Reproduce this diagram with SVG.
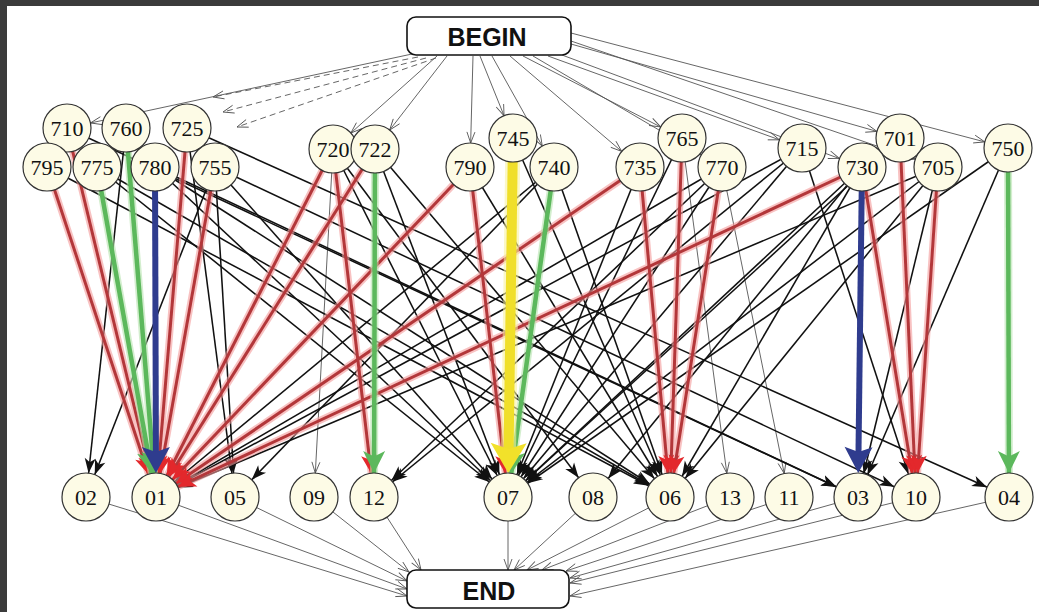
<svg xmlns="http://www.w3.org/2000/svg" width="1039" height="612" viewBox="0 0 1039 612">
<style>
  .bk{stroke:#111;stroke-width:1.55;marker-end:url(#ab)}
  .gn{stroke:#555;stroke-width:0.9;marker-end:url(#avn)}
  .ge{stroke:#555;stroke-width:0.9;marker-end:url(#ave)}
  .ds{stroke:#555;stroke-width:0.9;stroke-dasharray:6 4;marker-end:url(#ave)}
  .rd{stroke:#b3373a;stroke-width:3;marker-end:url(#ar)}
  .gr{stroke:#5cb85c;stroke-width:4.5;marker-end:url(#ag)}
  .bl{stroke:#2f3c8e;stroke-width:6;marker-end:url(#abl)}
  .yl{stroke:#f0df2a;stroke-width:10;marker-end:url(#ay)}
  .halo{fill:none}
  .node circle{fill:#fdfbe6;stroke:#333;stroke-width:1.2}
  .node text{font-family:"Liberation Serif",serif;font-size:22px;text-anchor:middle;fill:#111}
  .term rect{fill:#fff;stroke:#111;stroke-width:1.6}
  .term text{font-family:"Liberation Sans",Arial,sans-serif;font-weight:bold;font-size:25px;text-anchor:middle;fill:#111}
</style>
<defs>
  <marker id="ab" markerUnits="userSpaceOnUse" markerWidth="40" markerHeight="11" refX="39" refY="5.5" orient="auto" overflow="visible"><path d="M0,0L15,5.5L0,11L4,5.5z" fill="#111"/></marker>
  <marker id="avn" markerUnits="userSpaceOnUse" markerWidth="40" markerHeight="8" refX="35" refY="4" orient="auto" overflow="visible"><path d="M0,0L11,4L0,8" fill="none" stroke="#555" stroke-width="0.9"/></marker>
  <marker id="ave" markerUnits="userSpaceOnUse" markerWidth="12" markerHeight="8" refX="11" refY="4" orient="auto" overflow="visible"><path d="M0,0L11,4L0,8" fill="none" stroke="#555" stroke-width="0.9"/></marker>
  <marker id="ar" markerUnits="userSpaceOnUse" markerWidth="44" markerHeight="16" refX="42" refY="8" orient="auto" overflow="visible"><path d="M0,0L18,8L0,16L4.5,8z" fill="#e3282c"/></marker>
  <marker id="ag" markerUnits="userSpaceOnUse" markerWidth="48" markerHeight="22" refX="46" refY="11" orient="auto" overflow="visible"><path d="M0,0L22,11L0,22L5.5,11z" fill="#5cb85c"/></marker>
  <marker id="abl" markerUnits="userSpaceOnUse" markerWidth="28" markerHeight="28" refX="5" refY="14" orient="auto" overflow="visible"><path d="M0,0L26,14L0,28L5,14z" fill="#2f3c8e"/></marker>
  <marker id="ay" markerUnits="userSpaceOnUse" markerWidth="32" markerHeight="36" refX="6" refY="18" orient="auto" overflow="visible"><path d="M0,0L30,18L0,36L6,18z" fill="#f2e12a"/></marker>
</defs>

<rect width="1039" height="612" fill="#fff"/>
<!-- dark frame on top and left edges -->
<rect x="0" y="0" width="1039" height="6" fill="#3b3b3b"/>
<rect x="0" y="0" width="7" height="612" fill="#3b3b3b"/>

<g id="connectors">
  <!-- BEGIN to first layer -->
  <line class="gn" x1="412" y1="54" x2="67" y2="128"/>
  <line class="gn" x1="437" y1="56" x2="333" y2="149"/>
  <line class="gn" x1="447" y1="56" x2="375" y2="149"/>
  <line class="gn" x1="473" y1="56" x2="470" y2="167"/>
  <line class="gn" x1="480" y1="56" x2="513" y2="138"/>
  <line class="gn" x1="492" y1="56" x2="554" y2="167"/>
  <line class="gn" x1="510" y1="56" x2="640" y2="167"/>
  <line class="gn" x1="523" y1="56" x2="682" y2="138"/>
  <line class="gn" x1="533" y1="56" x2="722" y2="167"/>
  <line class="gn" x1="548" y1="56" x2="802" y2="148"/>
  <line class="gn" x1="562" y1="55" x2="862" y2="167"/>
  <line class="gn" x1="571" y1="44" x2="900" y2="138"/>
  <line class="gn" x1="571" y1="41" x2="938" y2="167"/>
  <line class="gn" x1="571" y1="33" x2="1008" y2="148"/>
  <line class="ds" x1="418" y1="57" x2="213" y2="97"/>
  <line class="ds" x1="426" y1="58" x2="223" y2="112"/>
  <line class="ds" x1="436" y1="58" x2="237" y2="127"/>

  <!-- last layer to END -->
  <line class="ge" x1="86" y1="497" x2="407" y2="596"/>
  <line class="ge" x1="156" y1="497" x2="407" y2="589"/>
  <line class="ge" x1="235" y1="497" x2="407" y2="581"/>
  <line class="ge" x1="314" y1="497" x2="409" y2="572"/>
  <line class="ge" x1="374" y1="497" x2="421" y2="570"/>
  <line class="ge" x1="508" y1="521" x2="508" y2="570"/>
  <line class="ge" x1="593" y1="497" x2="514" y2="570"/>
  <line class="ge" x1="670" y1="497" x2="527" y2="570"/>
  <line class="ge" x1="730" y1="497" x2="542" y2="570"/>
  <line class="ge" x1="789" y1="497" x2="566" y2="571"/>
  <line class="ge" x1="858" y1="497" x2="570" y2="578"/>
  <line class="ge" x1="916" y1="497" x2="570" y2="583"/>
  <line class="ge" x1="1009" y1="497" x2="570" y2="596"/>

  <!-- thin grey links between layers -->
  <line class="gn" x1="333" y1="149" x2="314" y2="497"/>
  <line class="gn" x1="682" y1="138" x2="730" y2="497"/>
  <line class="gn" x1="722" y1="167" x2="789" y2="497"/>

  <!-- black links -->
  <line class="bk" x1="126" y1="128" x2="86" y2="497"/>
  <line class="bk" x1="215" y1="167" x2="86" y2="497"/>
  <line class="bk" x1="187" y1="128" x2="235" y2="497"/>
  <line class="bk" x1="215" y1="167" x2="235" y2="497"/>
  <line class="bk" x1="67" y1="128" x2="858" y2="497"/>
  <line class="bk" x1="155" y1="167" x2="858" y2="497"/>
  <line class="bk" x1="215" y1="167" x2="916" y2="497"/>
  <line class="bk" x1="187" y1="128" x2="1009" y2="497"/>
  <line class="bk" x1="47" y1="167" x2="670" y2="497"/>
  <line class="bk" x1="97" y1="167" x2="670" y2="497"/>
  <line class="bk" x1="155" y1="167" x2="670" y2="497"/>
  <line class="bk" x1="155" y1="167" x2="508" y2="497"/>
  <line class="bk" x1="215" y1="167" x2="508" y2="497"/>
  <line class="bk" x1="97" y1="167" x2="508" y2="497"/>
  <line class="bk" x1="333" y1="149" x2="508" y2="497"/>
  <line class="bk" x1="333" y1="149" x2="593" y2="497"/>
  <line class="bk" x1="375" y1="149" x2="670" y2="497"/>
  <line class="bk" x1="375" y1="149" x2="508" y2="497"/>
  <line class="bk" x1="470" y1="167" x2="670" y2="497"/>
  <line class="bk" x1="513" y1="138" x2="670" y2="497"/>
  <line class="bk" x1="554" y1="167" x2="670" y2="497"/>
  <line class="bk" x1="554" y1="167" x2="235" y2="497"/>
  <line class="bk" x1="640" y1="167" x2="508" y2="497"/>
  <line class="bk" x1="682" y1="138" x2="508" y2="497"/>
  <line class="bk" x1="722" y1="167" x2="508" y2="497"/>
  <line class="bk" x1="802" y1="148" x2="508" y2="497"/>
  <line class="bk" x1="862" y1="167" x2="508" y2="497"/>
  <line class="bk" x1="938" y1="167" x2="508" y2="497"/>
  <line class="bk" x1="1008" y1="148" x2="508" y2="497"/>
  <line class="bk" x1="900" y1="138" x2="508" y2="497"/>
  <line class="bk" x1="722" y1="167" x2="374" y2="497"/>
  <line class="bk" x1="802" y1="148" x2="374" y2="497"/>
  <line class="bk" x1="862" y1="167" x2="593" y2="497"/>
  <line class="bk" x1="862" y1="167" x2="670" y2="497"/>
  <line class="bk" x1="938" y1="167" x2="670" y2="497"/>
  <line class="bk" x1="1008" y1="148" x2="858" y2="497"/>
  <line class="bk" x1="938" y1="167" x2="858" y2="497"/>
  <line class="bk" x1="802" y1="148" x2="916" y2="497"/>
  <line class="bk" x1="722" y1="167" x2="156" y2="497"/>
  <line class="bk" x1="802" y1="148" x2="156" y2="497"/>
  <line class="bk" x1="938" y1="167" x2="156" y2="497"/>
  <line class="bk" x1="554" y1="167" x2="156" y2="497"/>

  <!-- highlighted links: red -->
  <path class="halo" stroke="#f39a9a" stroke-width="7" stroke-opacity="0.6" d="M47,167L156,497M67,128L156,497M187,128L156,497M215,167L156,497M333,149L156,497M375,149L156,497M470,167L156,497M640,167L156,497M862,167L156,497M333,149L374,497M470,167L508,497M640,167L670,497M682,138L670,497M722,167L670,497M862,167L916,497M900,138L916,497M938,167L916,497"/>
  <line class="rd" x1="47" y1="167" x2="156" y2="497"/>
  <line class="rd" x1="67" y1="128" x2="156" y2="497"/>
  <line class="rd" x1="187" y1="128" x2="156" y2="497"/>
  <line class="rd" x1="215" y1="167" x2="156" y2="497"/>
  <line class="rd" x1="333" y1="149" x2="156" y2="497"/>
  <line class="rd" x1="375" y1="149" x2="156" y2="497"/>
  <line class="rd" x1="470" y1="167" x2="156" y2="497"/>
  <line class="rd" x1="640" y1="167" x2="156" y2="497"/>
  <line class="rd" x1="862" y1="167" x2="156" y2="497"/>
  <line class="rd" x1="333" y1="149" x2="374" y2="497"/>
  <line class="rd" x1="470" y1="167" x2="508" y2="497"/>
  <line class="rd" x1="640" y1="167" x2="670" y2="497"/>
  <line class="rd" x1="682" y1="138" x2="670" y2="497"/>
  <line class="rd" x1="722" y1="167" x2="670" y2="497"/>
  <line class="rd" x1="862" y1="167" x2="916" y2="497"/>
  <line class="rd" x1="900" y1="138" x2="916" y2="497"/>
  <line class="rd" x1="938" y1="167" x2="916" y2="497"/>

  <!-- highlighted links: green -->
  <path class="halo" stroke="#b5e3ad" stroke-width="8" stroke-opacity="0.6" d="M97,167L156,497M126,128L156,497M375,149L374,497M554,167L508,497M1008,148L1009,497"/>
  <line class="gr" x1="97" y1="167" x2="156" y2="497"/>
  <line class="gr" x1="126" y1="128" x2="156" y2="497"/>
  <line class="gr" x1="375" y1="149" x2="374" y2="497"/>
  <line class="gr" x1="554" y1="167" x2="508" y2="497"/>
  <line class="gr" x1="1008" y1="148" x2="1009" y2="497"/>

  <!-- highlighted links: blue -->
  <line class="bl" x1="155" y1="167" x2="155.9" y2="452"/>
  <line class="bl" x1="862" y1="167" x2="858.5" y2="452"/>

  <!-- highlighted link: yellow -->
  <path class="halo" stroke="#f8f2a0" stroke-width="15" stroke-opacity="0.6" d="M513,138L508.6,449"/>
  <line class="yl" x1="513" y1="138" x2="508.6" y2="449"/>
</g>

<g id="begin" class="term">
  <rect x="407" y="17" width="164" height="38" rx="9"/>
  <text x="487" y="46">BEGIN</text>
</g>
<g id="end" class="term">
  <rect x="407" y="570" width="162" height="38" rx="9"/>
  <text x="489" y="600">END</text>
</g>

<!-- first layer -->
<g id="n710" class="node"><circle cx="67" cy="128" r="24"/><text x="67" y="135.5">710</text></g>
<g id="n760" class="node"><circle cx="126" cy="128" r="24"/><text x="126" y="135.5">760</text></g>
<g id="n725" class="node"><circle cx="187" cy="128" r="24"/><text x="187" y="135.5">725</text></g>
<g id="n745" class="node"><circle cx="513" cy="138" r="24"/><text x="513" y="145.5">745</text></g>
<g id="n765" class="node"><circle cx="682" cy="138" r="24"/><text x="682" y="145.5">765</text></g>
<g id="n701" class="node"><circle cx="900" cy="138" r="24"/><text x="900" y="145.5">701</text></g>
<g id="n720" class="node"><circle cx="333" cy="149" r="24"/><text x="333" y="156.5">720</text></g>
<g id="n722" class="node"><circle cx="375" cy="149" r="24"/><text x="375" y="156.5">722</text></g>
<g id="n715" class="node"><circle cx="802" cy="148" r="24"/><text x="802" y="155.5">715</text></g>
<g id="n750" class="node"><circle cx="1008" cy="148" r="24"/><text x="1008" y="155.5">750</text></g>
<g id="n795" class="node"><circle cx="47" cy="167" r="24"/><text x="47" y="174.5">795</text></g>
<g id="n775" class="node"><circle cx="97" cy="167" r="24"/><text x="97" y="174.5">775</text></g>
<g id="n780" class="node"><circle cx="155" cy="167" r="24"/><text x="155" y="174.5">780</text></g>
<g id="n755" class="node"><circle cx="215" cy="167" r="24"/><text x="215" y="174.5">755</text></g>
<g id="n790" class="node"><circle cx="470" cy="167" r="24"/><text x="470" y="174.5">790</text></g>
<g id="n740" class="node"><circle cx="554" cy="167" r="24"/><text x="554" y="174.5">740</text></g>
<g id="n735" class="node"><circle cx="640" cy="167" r="24"/><text x="640" y="174.5">735</text></g>
<g id="n770" class="node"><circle cx="722" cy="167" r="24"/><text x="722" y="174.5">770</text></g>
<g id="n730" class="node"><circle cx="862" cy="167" r="24"/><text x="862" y="174.5">730</text></g>
<g id="n705" class="node"><circle cx="938" cy="167" r="24"/><text x="938" y="174.5">705</text></g>

<!-- last layer -->
<g id="n02" class="node"><circle cx="86" cy="497" r="24"/><text x="86" y="504.5">02</text></g>
<g id="n01" class="node"><circle cx="156" cy="497" r="24"/><text x="156" y="504.5">01</text></g>
<g id="n05" class="node"><circle cx="235" cy="497" r="24"/><text x="235" y="504.5">05</text></g>
<g id="n09" class="node"><circle cx="314" cy="497" r="24"/><text x="314" y="504.5">09</text></g>
<g id="n12" class="node"><circle cx="374" cy="497" r="24"/><text x="374" y="504.5">12</text></g>
<g id="n07" class="node"><circle cx="508" cy="497" r="24"/><text x="508" y="504.5">07</text></g>
<g id="n08" class="node"><circle cx="593" cy="497" r="24"/><text x="593" y="504.5">08</text></g>
<g id="n06" class="node"><circle cx="670" cy="497" r="24"/><text x="670" y="504.5">06</text></g>
<g id="n13" class="node"><circle cx="730" cy="497" r="24"/><text x="730" y="504.5">13</text></g>
<g id="n11" class="node"><circle cx="789" cy="497" r="24"/><text x="789" y="504.5">11</text></g>
<g id="n03" class="node"><circle cx="858" cy="497" r="24"/><text x="858" y="504.5">03</text></g>
<g id="n10" class="node"><circle cx="916" cy="497" r="24"/><text x="916" y="504.5">10</text></g>
<g id="n04" class="node"><circle cx="1009" cy="497" r="24"/><text x="1009" y="504.5">04</text></g>
</svg>
